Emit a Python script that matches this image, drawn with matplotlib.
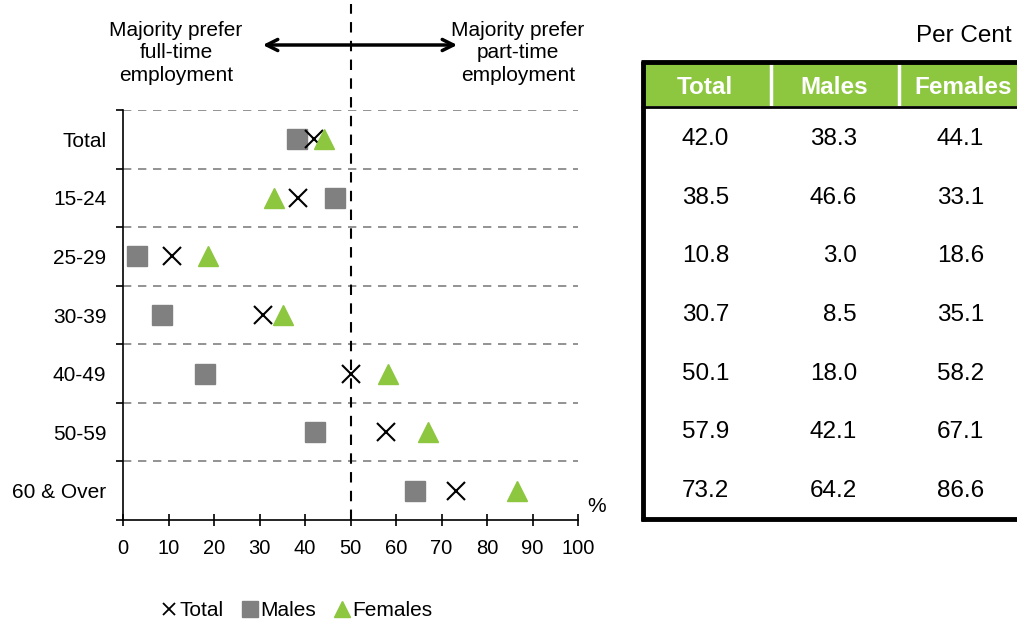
import matplotlib
matplotlib.use("Agg")
import matplotlib.pyplot as plt
from matplotlib.transforms import blended_transform_factory
from matplotlib.lines import Line2D

plt.rcParams['font.family'] = ['Liberation Sans', 'DejaVu Sans']

# Preference for part-time employment by age group (per cent)
groups = ['Total', '15-24', '25-29', '30-39', '40-49', '50-59', '60 & Over']
total = [42.0, 38.5, 10.8, 30.7, 50.1, 57.9, 73.2]
males = [38.3, 46.6, 3.0, 8.5, 18.0, 42.1, 64.2]
females = [44.1, 33.1, 18.6, 35.1, 58.2, 67.1, 86.6]
columns = ['Total', 'Males', 'Females']

GREEN = '#8DC63F'
GREY = '#808080'
W, H = 1017, 624
FS = 15
TFS = 17.5

fig = plt.figure(figsize=(W / 100, H / 100), dpi=100)
ax = fig.add_axes([123 / W, (H - 520) / H, 455 / W, 410 / H])

ypos = list(range(len(groups)))
ax.plot(males, ypos, 's', color=GREY, ms=14, ls='none', label='Males', zorder=3)
ax.plot(total, ypos, 'x', color='black', ms=13, mew=1.5, ls='none', label='Total', zorder=4)
ax.plot(females, ypos, '^', color=GREEN, ms=15, ls='none', label='Females', zorder=5)

ax.set_xlim(0, 100)
ax.set_ylim(len(groups) - 0.5, -0.5)
ax.set_xticks(range(0, 101, 10))
ax.set_yticks(ypos)
ax.set_yticklabels(groups)
ax.set_yticks([i - 0.5 for i in range(len(groups) + 1)], minor=True)
ax.tick_params(axis='y', which='major', length=0, pad=12, labelsize=FS)
ax.tick_params(axis='y', which='minor', length=5, width=1.2, direction='out')
ax.tick_params(axis='x', length=8, width=1.2, direction='inout', pad=10, labelsize=14.5)
for s in ['top', 'right']:
    ax.spines[s].set_visible(False)
for s in ['left', 'bottom']:
    ax.spines[s].set_linewidth(1.2)

# dashed separators between age groups
for b in range(len(groups)):
    ax.axhline(b - 0.5, color=GREY, lw=1.2, ls=(0, (5, 4)), zorder=1)

# 50% divider runs up to the top of the figure
ax.axvline(50, ymin=0, ymax=(520 - 4) / 410, color='black', lw=1.5,
           ls=(0, (5, 4)), clip_on=False, zorder=2)

ax.text(1.04, 0.01, '%', transform=ax.transAxes, fontsize=FS, ha='center', va='bottom')

px = fig.add_axes([0, 0, 1, 1], zorder=-1)
px.set_xlim(0, W)
px.set_ylim(H, 0)
px.axis('off')

px.annotate('', xy=(260, 45), xytext=(460, 45),
            arrowprops=dict(arrowstyle='<->,head_length=0.8,head_width=0.4', lw=2.5, color='black'))
px.text(176, 53, 'Majority prefer\nfull-time\nemployment', ha='center', va='center',
        fontsize=FS, linespacing=1.22)
px.text(518, 53, 'Majority prefer\npart-time\nemployment', ha='center', va='center',
        fontsize=FS, linespacing=1.22)

# table to the right of the chart, rows aligned with the chart rows
tab = fig.add_axes([0, 0, 1, 1], zorder=1)
tab.set_xlim(0, W)
tab.set_ylim(H, 0)
tab.axis('off')
tab.add_patch(plt.Rectangle((642, 63), W - 642, 43, color=GREEN, lw=0))
for xs in [771, 899]:
    tab.plot([xs, xs], [63, 106], color='white', lw=2.5)
tab.plot([641, W], [62, 62], color='black', lw=3.5, solid_capstyle='butt')
tab.plot([641, W], [107, 107], color='black', lw=2, solid_capstyle='butt')
tab.plot([641, W], [519, 519], color='black', lw=3.5, solid_capstyle='butt')
tab.plot([642.5, 642.5], [60.5, 520.5], color='black', lw=3.5, solid_capstyle='butt')

centers = [705, 834, 963]
rights = [729, 857, 984]
for c, name in zip(centers, columns):
    tab.text(c, 87, name, color='white', fontweight='bold', fontsize=17.5,
             ha='center', va='center')
tab.text(1012, 36, 'Per Cent', fontsize=TFS, ha='right', va='center')

row_tf = blended_transform_factory(tab.transData, ax.transData)
for i in ypos:
    for r, vals in zip(rights, [total, males, females]):
        tab.text(r, i, f'{vals[i]:.1f}', transform=row_tf, fontsize=TFS,
                 ha='right', va='center')

handles = [Line2D([], [], marker='x', color='black', ls='none', ms=9, mew=1.3),
           Line2D([], [], marker='s', color=GREY, ls='none', ms=11),
           Line2D([], [], marker='^', color=GREEN, ls='none', ms=11)]
fig.legend(handles, ['Total', 'Males', 'Females'], loc='center',
           bbox_to_anchor=(297 / W, (H - 611) / H), ncol=3, frameon=False,
           fontsize=FS, handlelength=0.7, handletextpad=0.15, columnspacing=0.9)

fig.savefig('out.png', dpi=100)
